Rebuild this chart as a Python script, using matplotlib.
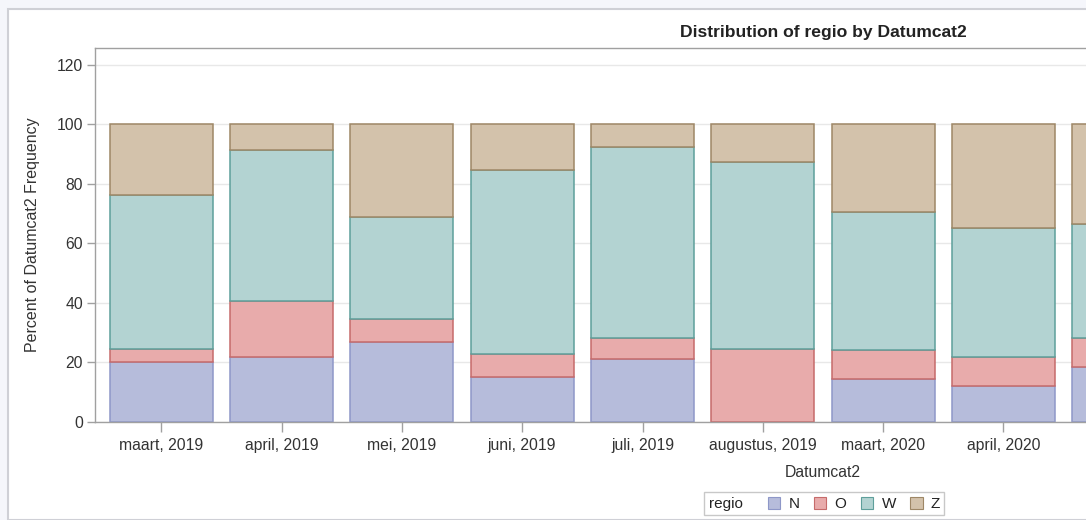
import matplotlib
matplotlib.use("Agg")
import matplotlib.pyplot as plt
from matplotlib.patches import Patch, Rectangle
import numpy as np

plt.rcParams['font.family'] = ['Liberation Sans', 'DejaVu Sans']

categories = ["maart, 2019", "april, 2019", "mei, 2019", "juni, 2019", "juli, 2019",
              "augustus, 2019", "maart, 2020", "april, 2020", "mei, 2020"]
regions = ["N", "O", "W", "Z"]
N = [20.3, 22.0, 26.8, 15.1, 21.1, 0.0, 14.5, 12.1, 18.6]
O = [4.2, 18.8, 7.7, 7.8, 7.2, 24.6, 9.7, 9.6, 9.5]
W = [51.8, 50.7, 34.3, 61.8, 64.1, 62.8, 46.4, 43.5, 38.5]
Z = [23.7, 8.5, 31.2, 15.3, 7.6, 12.6, 29.4, 34.8, 33.4]
series = [N, O, W, Z]

fills = ["#b6bcdb", "#e8abab", "#b3d3d2", "#d3c2ab"]
edges = ["#8e97c8", "#c66b6b", "#5e9f9b", "#9e8766"]

W_PX, H_PX = 1086, 520
fig = plt.figure(figsize=(W_PX / 100, H_PX / 100), dpi=100)
fig.patch.set_facecolor("#f5f6fb")
# inner white panel with light border
fig.add_artist(Rectangle((8 / W_PX, 0), 1.0, 1 - 9 / H_PX, transform=fig.transFigure,
                         facecolor="white", edgecolor="#cfd0d6", linewidth=1.5, zorder=0))

left, right, top, bottom = 95, 1551, 48, 422
ax = fig.add_axes([left / W_PX, 1 - bottom / H_PX, (right - left) / W_PX, (bottom - top) / H_PX])
ax.set_facecolor("white")

x = np.arange(len(categories))
base = np.zeros(len(categories))
for vals, fc, ec in zip(series, fills, edges):
    vals = np.array(vals)
    ax.bar(x, vals, bottom=base, width=0.855, color=fc, edgecolor=ec, linewidth=1.1, zorder=2)
    base = base + vals

ax.set_xlim(-0.55, 11.55)
ax.set_ylim(0, 125.7)
ax.set_yticks([0, 20, 40, 60, 80, 100, 120])
ax.set_xticks(x)
ax.set_xticklabels(categories)
ax.yaxis.grid(True, color="#e8e8e8", linewidth=1.0, zorder=0)
ax.set_axisbelow(True)
for s in ax.spines.values():
    s.set_color("#a0a0a0")
    s.set_linewidth(1.0)
ax.tick_params(axis="both", colors="#a0a0a0", labelcolor="#333333", labelsize=11.3, length=7, width=1)
ax.tick_params(axis="y", pad=2.5, length=6)
ax.tick_params(axis="x", pad=4.5)

ax.set_xlabel("Datumcat2", fontsize=11.3, color="#333333", labelpad=8.5)
ax.set_ylabel("Percent of Datumcat2 Frequency", fontsize=11.5, color="#333333", labelpad=12)
ax.set_title("Distribution of regio by Datumcat2", fontsize=12.6, fontweight="bold", color="#222222", pad=8)

# legend
handles = [Patch(facecolor=fc, edgecolor=ec, linewidth=0.8) for fc, ec in zip(fills, edges)]
fig.add_artist(Rectangle((704 / W_PX, 1 - 515 / H_PX), 240 / W_PX, 23 / H_PX, transform=fig.transFigure,
                         facecolor="white", edgecolor="#c8c8c8", linewidth=1.0, zorder=3))
fig.text(709 / W_PX, 1 - 504 / H_PX, "regio", fontsize=11, color="#222222", va="center", ha="left", zorder=4)
leg = fig.legend(handles, regions, loc="center left", bbox_to_anchor=(757 / W_PX, 1 - 504 / H_PX),
                 ncol=4, frameon=False, fontsize=11, handlelength=0.8, handleheight=0.8,
                 handletextpad=0.55, columnspacing=0.95, borderpad=0.2)
leg.set_zorder(5)
for t in leg.get_texts():
    t.set_color("#222222")

fig.savefig("out.png", dpi=100, facecolor=fig.get_facecolor())
